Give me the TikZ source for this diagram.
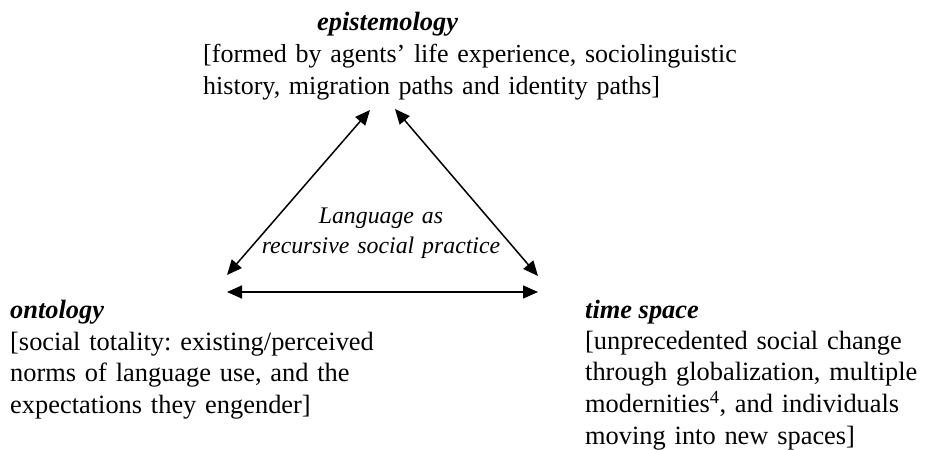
\documentclass[tikz,border=0pt]{standalone}
\usepackage{fontspec}
\setmainfont{Liberation Serif}
\usetikzlibrary{arrows.meta,positioning}
\frenchspacing

\begin{document}
\begin{tikzpicture}[x=1pt,y=-1pt,
  body/.style={font=\fontsize{26.4}{31.9}\selectfont,align=left,text width=600pt,
    inner sep=0pt,anchor=base west},
  head/.style={font=\fontsize{26.4}{31.9}\selectfont\bfseries\itshape,inner sep=0pt,anchor=base west},
  core/.style={font=\fontsize{23.8}{30}\selectfont\itshape,align=center,text width=300pt,
    inner sep=0pt,anchor=base},
  arr/.style={{Triangle[length=15pt,width=13pt]}-{Triangle[length=15pt,width=13pt]},line width=1.5pt}]
  \useasboundingbox (0,0) rectangle (930,450);
  \node[head] (epi) at (317,30) {epistemology};
  \node[body,font=\fontsize{26}{32}\selectfont] (epitxt) at (203,62) {[formed by agents’ life experience, sociolinguistic\\
    history, migration paths and identity paths]};
  \node[head] (ont) at (10,318) {ontology};
  \node[body] (onttxt) at (10,350) {[social totality: existing/perceived\\
    norms of language use, and the\\expectations they engender]};
  \node[head] (ts) at (585,318) {time space};
  \node[body] (tstxt) at (585,349) {[unprecedented social change\\
    through globalization, multiple\\modernities\textsuperscript{4}, and individuals\\
    moving into new spaces]};
  \node[core] (lang) at (381,223) {Language as\\recursive social practice};
  \coordinate (epiL) at (370,110);
  \coordinate (epiR) at (395,109);
  \coordinate (ontU) at (227,275);
  \coordinate (ontH) at (227,292);
  \coordinate (tsU) at (538,276);
  \coordinate (tsH) at (538,292);
  \draw[arr] (epiL) -- (ontU);
  \draw[arr] (epiR) -- (tsU);
  \draw[arr] (ontH) -- (tsH);
\end{tikzpicture}
\end{document}
